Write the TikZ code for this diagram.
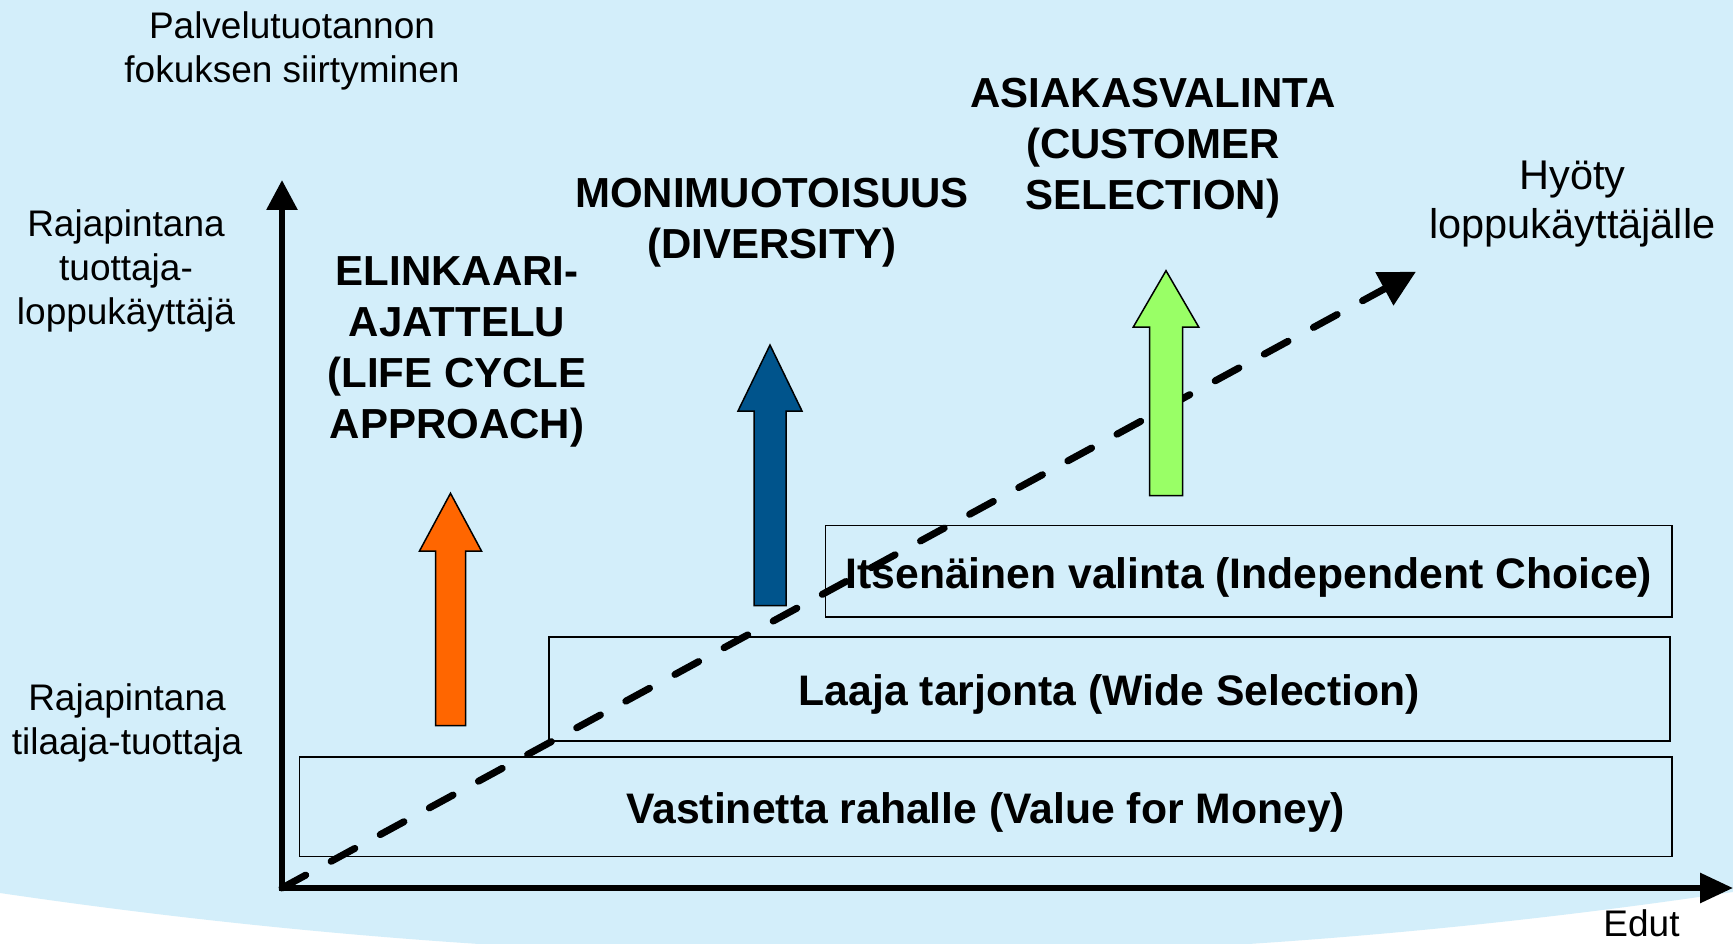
\documentclass[tikz,border=0pt]{standalone}
\usepackage{fontspec}
\setmainfont{Liberation Sans}
\usetikzlibrary{arrows.meta}
\definecolor{bgblue}{RGB}{211,238,250}
\definecolor{arrorange}{RGB}{255,102,0}
\definecolor{arrblue}{RGB}{0,84,140}
\definecolor{arrgreen}{RGB}{153,255,102}
\begin{document}
\begin{tikzpicture}[x=1pt,y=-1pt,
  lab/.style={inner sep=0pt, anchor=north, align=center, font=\fontsize{37}{44}\selectfont},
  biglab/.style={inner sep=0pt, anchor=north, align=center, font=\fontsize{41.5}{49.5}\selectfont},
  boldlab/.style={inner sep=0pt, anchor=north, align=center, font=\fontsize{42}{51}\selectfont\bfseries},
  levelbox/.style={draw=black, line width=1.6pt, inner sep=0pt, font=\fontsize{42.7}{50}\selectfont\bfseries, text height=34pt, text depth=0pt},
  blockarrow/.style={draw=black, line width=1.5pt, line join=miter},
  axisline/.style={line width=6pt, line join=miter},
  trend/.style={line width=7pt, line cap=round, dash pattern=on 27pt off 28.9pt}
]
\useasboundingbox (0,0) rectangle (1733,944);
% background
\fill[white] (0,0) rectangle (1733,944);
\begin{scope}
\clip (0,0) rectangle (1733,944);
\fill[bgblue] (0,0) -- (1733,0) -- (1733,892) .. controls (1155.7,978) and (577.3,978) .. (0,893) -- cycle;
\end{scope}

% level boxes
\node[levelbox, minimum width=1372.5pt, minimum height=99.5pt] (value) at (985.75,806.75) {Vastinetta rahalle (Value for Money)};
\node[levelbox, minimum width=1121pt, minimum height=104pt] (wide) at (1109.5,688.7) {Laaja tarjonta (Wide Selection)};
\node[levelbox, minimum width=846.4pt, minimum height=91.2pt] (indep) at (1248.8,571.1) {Itsenäinen valinta (Independent Choice)};

% coordinates of axes
\coordinate (O) at (282,888);
\coordinate (ytop) at (282,180);
\coordinate (xend) at (1733,888);
\coordinate (trendend) at (1416,271.7);

% trend dashed arrow
\draw[trend, -{Triangle[length=36pt,width=36pt]}] (O) -- (trendend);

% block arrows
\draw[blockarrow, fill=arrorange] (435.5,725.7) -- (435.5,551) -- (419.5,551) -- (450.5,493.3) -- (481.5,551) -- (465.5,551) -- (465.5,725.7) -- cycle;
\draw[blockarrow, fill=arrblue] (754,605.7) -- (754,411) -- (738,411) -- (770,345) -- (802,411) -- (786,411) -- (786,605.7) -- cycle;
\draw[blockarrow, fill=arrgreen] (1149.5,495.7) -- (1149.5,327) -- (1133.3,327) -- (1166,270.7) -- (1198.7,327) -- (1182.5,327) -- (1182.5,495.7) -- cycle;

% axes
\draw[axisline, {Triangle[length=30pt,width=30pt]}-{Triangle[length=33pt,width=29pt]}] (ytop) -- (O) -- (xend);

% labels
\node[lab] (focus) at (292,11.5) {Palvelutuotannon\\fokuksen siirtyminen};
\node[lab] (ifupper) at (126,209.5) {Rajapintana\\tuottaja-\\loppukäyttäjä};
\node[lab] (iflower) at (127,683) {Rajapintana\\tilaaja-tuottaja};
\node[biglab] (benefit) at (1572.5,160.5) {Hyöty\\loppukäyttäjälle};
\node[lab] (edut) at (1641.5,909) {Edut};
\node[boldlab] (lifecycle) at (457,256) {ELINKAARI-\\AJATTELU\\(LIFE CYCLE\\APPROACH)};
\node[boldlab] (diversity) at (772,177.5) {MONIMUOTOISUUS\\(DIVERSITY)};
\node[boldlab] (customer) at (1153,78.3) {ASIAKASVALINTA\\(CUSTOMER\\SELECTION)};
\end{tikzpicture}
\end{document}
